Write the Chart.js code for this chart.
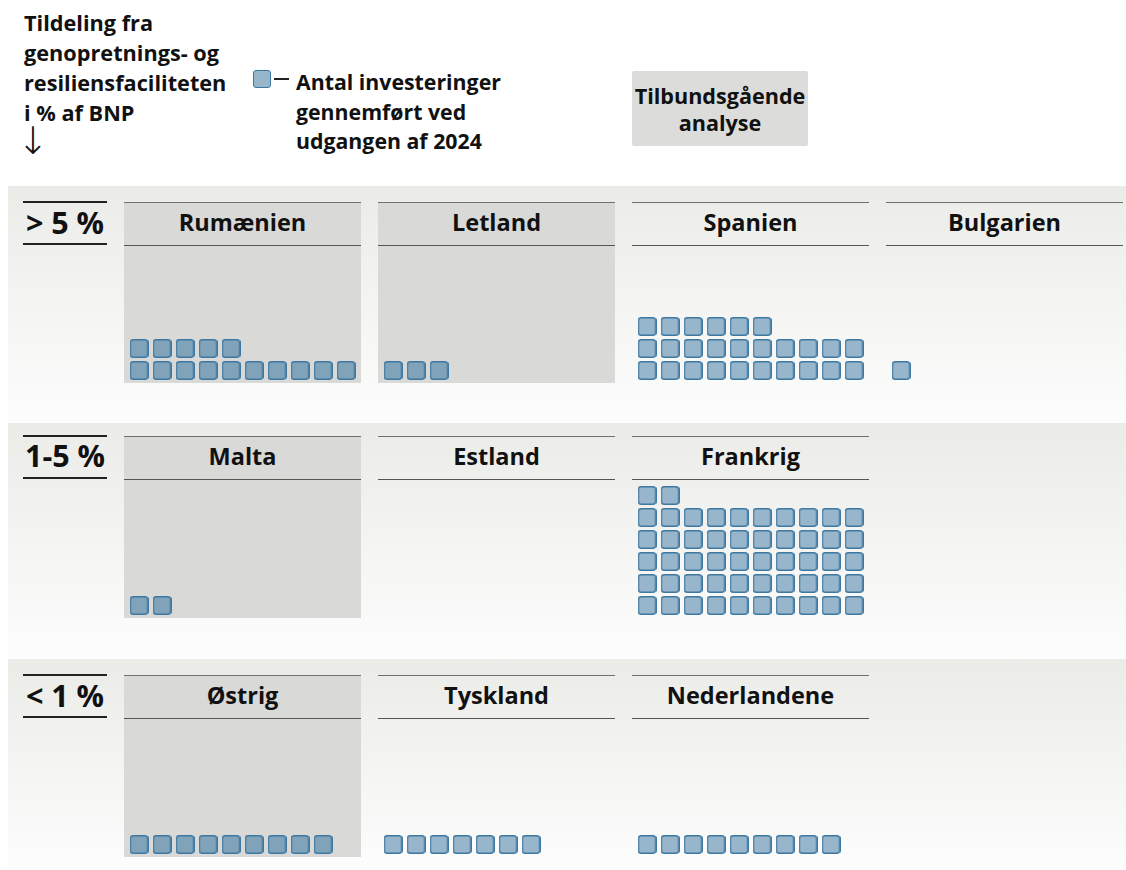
<!DOCTYPE html>
<html>
<head>
<meta charset="utf-8">
<script src="https://cdn.jsdelivr.net/npm/chart.js@4/dist/chart.umd.min.js"></script>
<style>
  html, body { margin:0; padding:0; background:#ffffff; }
  body { width:1126px; height:870px; position:relative; overflow:hidden;
         font-family:"Open Sans", "Noto Sans", sans-serif; color:#111; }
  .abs { position:absolute; }
  .title { left:24px; top:8px; font-weight:700; font-size:21.7px; line-height:30px; white-space:nowrap; }
  .arrow { left:17px; top:121px; font-size:38px; line-height:40px; font-family:"DejaVu Sans", sans-serif; font-weight:200; }
  .legsq { left:253px; top:70px; width:16px; height:16px; background:#98b6cb; border:1.5px solid #3d78a2; border-radius:3px; }
  .legdash { left:274px; top:78px; width:15px; height:2px; background:#222; }
  .legtext { left:296px; top:67px; font-weight:700; font-size:21.3px; line-height:29.5px; white-space:nowrap; }
  .review { left:632px; top:71px; width:176px; height:75px; background:#dcdddb; border-radius:2px;
            font-weight:700; font-size:21.6px; line-height:27px; text-align:center;
            display:flex; align-items:center; justify-content:center; }
  .band { left:8px; width:1118px; background:linear-gradient(#ebebe8, #fdfdfd); }
  .lvl { left:23px; width:84px; border-top:2px solid #222; border-bottom:2px solid #222; font-weight:700;
         font-size:30.5px; text-align:center; white-space:nowrap; box-sizing:border-box;
         display:flex; align-items:center; justify-content:center; padding-bottom:3px; }
  .panel { width:237px; }
  .panel.grey { background:#d9d9d8; }
  .phead { left:0; top:0; width:237px; border-top:1.5px solid #6f6f6f; border-bottom:1.5px solid #555;
           box-sizing:border-box; font-weight:700; font-size:23.5px; text-align:center;
           display:flex; align-items:center; justify-content:center; padding-bottom:3px; }
  canvas { position:absolute; left:0; }
</style>
</head>
<body>
<script>
// ---- data ----
const levelLabels = ['> 5 %', '1-5 %', '< 1 %'];
const countries = ['Rumænien','Letland','Spanien','Bulgarien','Malta','Estland','Frankrig','Østrig','Tyskland','Nederlandene'];
const investments = [15, 3, 26, 1, 2, 0, 52, 9, 7, 9];
const countryLevel = [0, 0, 0, 0, 1, 1, 1, 2, 2, 2];
const inDepthReview = [true, true, false, false, true, false, false, true, false, false];
const titleLines = ['Tildeling fra', 'genopretnings- og', 'resiliensfaciliteten', 'i % af BNP'];
const legendLines = ['Antal investeringer', 'gennemført ved', 'udgangen af 2024'];
const reviewLines = ['Tilbundsgående', 'analyse'];
const perRow = 10;

// ---- layout ----
const bands = [
  {top:186, bottom:423, line1:202, line2:244, panelBottom:383},
  {top:423, bottom:659, line1:435.5, line2:478, panelBottom:618},
  {top:659, bottom:870, line1:675, line2:717, panelBottom:857}
];
const panelLeft0 = 124, panelStep = 254, panelW = 237;
const colPitch = 23, rowPitch = 22, firstColOffset = 15, firstRowOffset = 12.5;

function el(cls, css, html) {
  const d = document.createElement('div');
  d.className = 'abs ' + cls;
  Object.assign(d.style, css || {});
  if (html !== undefined) d.innerHTML = html;
  document.body.appendChild(d);
  return d;
}

el('title', {}, titleLines.join('<br>'));
el('arrow', {}, '↓');
el('legsq', {});
el('legdash', {});
el('legtext', {}, legendLines.join('<br>'));
el('review', {}, '<div>' + reviewLines.join('<br>') + '</div>');

bands.forEach((b, i) => {
  el('band', {top: b.top + 'px', height: (b.bottom - b.top) + 'px'});
  el('lvl', {top: (b.line1 - 1) + 'px', height: (b.line2 - b.line1 + 2) + 'px'}, levelLabels[i]);
});

function makeSquare(fill) {
  const c = document.createElement('canvas');
  c.width = 19; c.height = 19;
  const ctx = c.getContext('2d');
  ctx.beginPath();
  ctx.roundRect(0.75, 0.75, 17.5, 17.5, 3);
  ctx.fillStyle = fill; ctx.fill();
  ctx.lineWidth = 1.5; ctx.strokeStyle = '#3d78a2'; ctx.stroke();
  return c;
}
const sqGrey = makeSquare('#80a3b9');
const sqWhite = makeSquare('#98b6cb');

const colIndexInLevel = {};
countries.forEach((name, i) => {
  const lv = countryLevel[i];
  colIndexInLevel[lv] = (colIndexInLevel[lv] || 0);
  const col = colIndexInLevel[lv]++;
  const b = bands[lv];
  const left = panelLeft0 + col * panelStep;
  const p = el('panel' + (inDepthReview[i] ? ' grey' : ''),
    {left: left + 'px', top: b.line1 + 'px', height: (b.panelBottom - b.line1) + 'px'});
  const head = document.createElement('div');
  head.className = 'abs phead';
  head.style.height = (b.line2 - b.line1 + 1.5) + 'px';
  head.textContent = name;
  p.appendChild(head);

  const h = b.panelBottom - b.line2;
  const cv = document.createElement('canvas');
  cv.width = panelW; cv.height = h;
  cv.style.top = (b.line2 - b.line1) + 'px';
  p.appendChild(cv);

  const pts = [];
  for (let k = 0; k < investments[i]; k++) pts.push({x: k % perRow, y: Math.floor(k / perRow)});
  const xmin = -firstColOffset / colPitch, ymin = -firstRowOffset / rowPitch;
  new Chart(cv, {
    type: 'scatter',
    data: {datasets: [{data: pts, pointStyle: inDepthReview[i] ? sqGrey : sqWhite,
                       pointRadius: 9.5, pointHoverRadius: 9.5, clip: false}]},
    options: {
      responsive: false, animation: false, events: [],
      layout: {padding: 0, autoPadding: false},
      plugins: {legend: {display: false}, tooltip: {enabled: false}},
      scales: {
        x: {type: 'linear', display: false, min: xmin, max: xmin + panelW / colPitch},
        y: {type: 'linear', display: false, min: ymin, max: ymin + h / rowPitch}
      }
    }
  });
});
</script>
</body>
</html>
